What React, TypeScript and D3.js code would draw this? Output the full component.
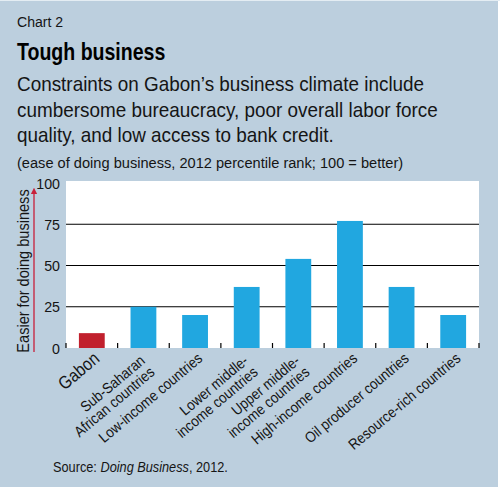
import React, { useEffect, useRef } from 'react';
import * as d3 from 'd3';

// Chart values
const categories: string[][] = [
    ['Gabon'],
    ['Sub-Saharan', 'African countries'],
    ['Low-income countries'],
    ['Lower middle-', 'income countries'],
    ['Upper middle-', 'income countries'],
    ['High-income countries'],
    ['Oil producer countries'],
    ['Resource-rich countries'],
];
const values = [9, 25, 20, 37, 54, 77, 37, 20];
const yTicks = [0, 25, 50, 75, 100];

const subtitleLines = [
    'Constraints on Gabon\u2019s business climate include',
    'cumbersome bureaucracy, poor overall labor force',
    'quality, and low access to bank credit.',
];

const FONT = "'Liberation Sans', Arial, sans-serif";

type Sel = d3.Selection<any, unknown, null, undefined>;

// text squeezed horizontally to mimic the condensed face of the original
function addText(parent: Sel, x: number, y: number, size: number, sx: number, str: string, rot = 0) {
    return parent
        .append('text')
        .attr('transform', `translate(${x}, ${y})${rot ? ` rotate(${rot})` : ''} scale(${sx}, 1)`)
        .attr('font-size', size)
        .attr('fill', '#151515')
        .text(str);
}

const App: React.FC = () => {
    const svgRef = useRef<SVGSVGElement | null>(null);

    useEffect(() => {
        if (!svgRef.current) return;
        const svg = d3.select(svgRef.current) as unknown as Sel;
        svg.selectAll('*').remove();

        const width = 500;
        const height = 487;
        const plot = { left: 66, right: 479, top: 181, bottom: 348 };

        // background
        svg.append('rect').attr('width', width).attr('height', height).attr('fill', '#bccfde');
        svg.append('rect').attr('x', width - 2).attr('width', 2).attr('height', height).attr('fill', '#ffffff');
        svg.append('rect').attr('width', width).attr('height', 1).attr('fill', '#e4edf3');

        // headings
        addText(svg, 17, 27, 15, 0.94, 'Chart 2');
        addText(svg, 17, 60, 23, 0.85, 'Tough business').attr('font-weight', 'bold').attr('fill', '#000');
        subtitleLines.forEach((s, i) => {
            addText(svg, 17, 91 + i * 25.5, 19.5, 0.97, s);
        });
        addText(svg, 17, 168, 15, 0.975, '(ease of doing business, 2012 percentile rank; 100 = better)');

        // scales
        const x = d3.scaleBand<number>()
            .domain(d3.range(values.length))
            .range([plot.left, plot.right])
            .paddingInner(0.5)
            .paddingOuter(0.25);
        const step = x.step();
        const y = d3.scaleLinear().domain([0, 100]).range([plot.bottom, plot.top + 2]);

        // plot area
        svg.append('rect')
            .attr('x', plot.left).attr('y', plot.top)
            .attr('width', plot.right - plot.left).attr('height', plot.bottom - plot.top)
            .attr('fill', '#ffffff');

        // gridlines
        svg.selectAll('.grid')
            .data(yTicks.filter((t) => t > 0 && t < 100))
            .enter()
            .append('line')
            .attr('x1', plot.left).attr('x2', plot.right)
            .attr('y1', (d) => y(d)).attr('y2', (d) => y(d))
            .attr('stroke', '#000').attr('stroke-width', 1.2);

        // y tick labels
        yTicks.forEach((t) => {
            addText(svg, plot.left - 6, y(t) + 5.5, 15.5, 0.92, String(t)).attr('text-anchor', 'end');
        });

        // bars
        svg.selectAll('.bar')
            .data(values)
            .enter()
            .append('rect')
            .attr('x', (_, i) => x(i) as number)
            .attr('width', x.bandwidth())
            .attr('y', (d) => y(d))
            .attr('height', (d) => y(0) - y(d))
            .attr('fill', (_, i) => (i === 0 ? '#c1202d' : '#21a7e0'));

        // x ticks at band boundaries
        const bounds = d3.range(values.length + 1).map((i) => plot.left + i * step);
        svg.selectAll('.xtick')
            .data(bounds)
            .enter()
            .append('line')
            .attr('x1', (d) => d).attr('x2', (d) => d)
            .attr('y1', plot.bottom).attr('y2', plot.bottom - 5)
            .attr('stroke', '#000').attr('stroke-width', 1.2);

        // x labels, rotated
        categories.forEach((lines, i) => {
            const cx = (x(i) as number) + x.bandwidth() / 2;
            const two = lines.length > 1;
            const ax = cx + (two ? 4 : 5);
            const ay = two ? 364 : 356;
            lines.forEach((ln, j) => {
                const off = two ? (j - 0.5) * 15 : 0;
                // offset perpendicular to the rotated baseline
                const a = (40 * Math.PI) / 180;
                addText(svg, ax + off * Math.sin(a), ay + off * Math.cos(a), i === 0 ? 18 : 15, i === 0 ? 0.87 : 0.89, ln, -40)
                    .attr('text-anchor', 'end')
                    .attr('dominant-baseline', 'central');
            });
        });

        // y axis title with arrow
        svg.append('defs').append('marker')
            .attr('id', 'arrowhead')
            .attr('viewBox', '0 0 10 10')
            .attr('refX', 5).attr('refY', 5)
            .attr('markerWidth', 5).attr('markerHeight', 6)
            .attr('orient', 'auto')
            .append('path')
            .attr('d', 'M0,0 L10,5 L0,10 Z')
            .attr('fill', '#c8203a');
        svg.append('line')
            .attr('x1', 34).attr('x2', 34)
            .attr('y1', 352).attr('y2', 191)
            .attr('stroke', '#c8203a').attr('stroke-width', 1.3)
            .attr('marker-end', 'url(#arrowhead)');
        addText(svg, 23, 271, 16, 0.91, 'Easier for doing business', -90)
            .attr('text-anchor', 'middle')
            .attr('dominant-baseline', 'central');

        // source
        const src = addText(svg, 53, 472, 15, 0.85, '');
        src.append('tspan').text('Source: ');
        src.append('tspan').attr('font-style', 'italic').text('Doing Business');
        src.append('tspan').text(', 2012.');
    }, []);

    return (
        <svg
            ref={svgRef}
            width={500}
            height={487}
            style={{ position: 'absolute', left: 0, top: 0, fontFamily: FONT }}
        />
    );
};

export default App;
